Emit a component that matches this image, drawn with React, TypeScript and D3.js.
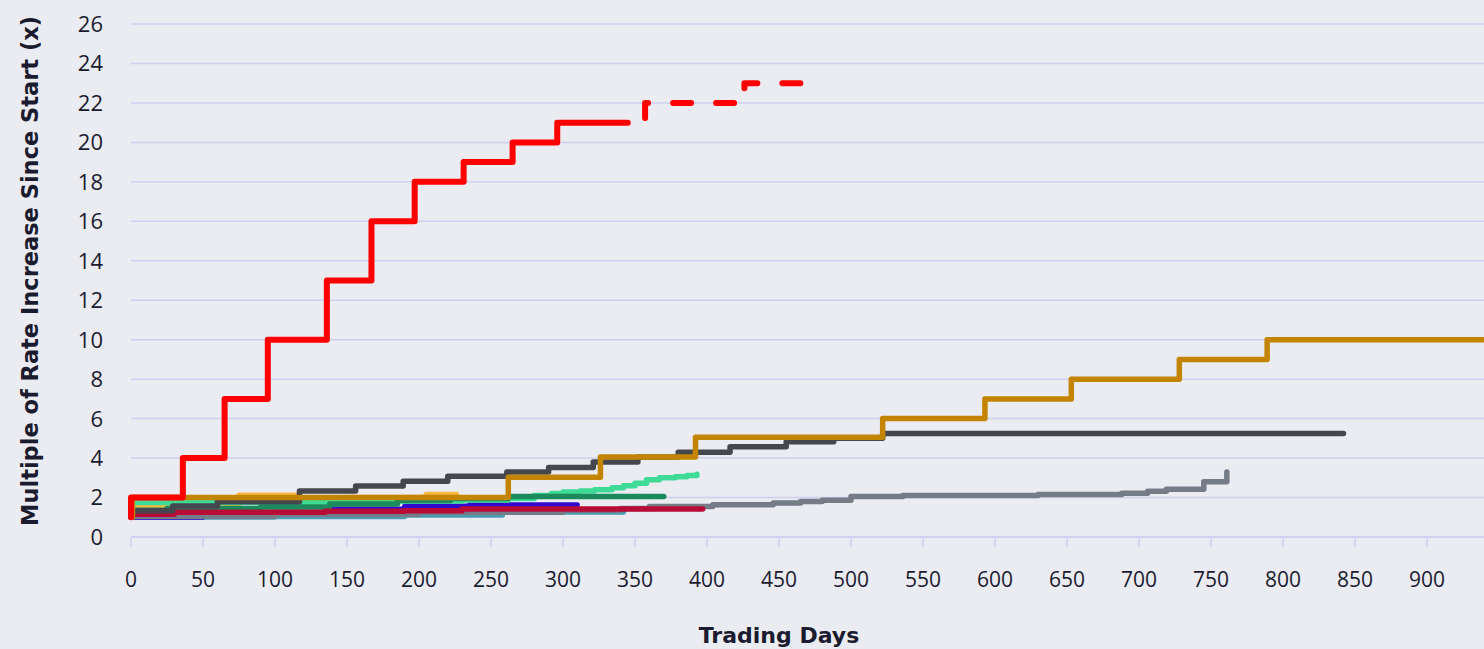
import React, { useEffect, useRef } from 'react';
import * as d3 from 'd3';

type Pt = [number, number];

// [trading day, multiple since start] - drawn as step-after lines
const redActual: Pt[] = [[0, 1], [0, 2], [36, 4], [65, 7], [95, 10], [136, 13], [167, 16], [197, 18], [231, 19], [265, 20], [296, 21], [345, 21]];
const redProjected: Pt[] = [[345, 21], [357, 22], [426, 23], [467, 23]];
const goldSeries: Pt[] = [[0, 1], [1, 2], [262, 3.03], [326, 4.05], [392, 5.05], [522, 6], [593, 7], [653, 8], [728, 9], [789, 10], [940, 10]];
const darkGraySeries: Pt[] = [[0, 1], [1, 1.33], [29, 1.57], [60, 1.79], [117, 2.33], [156, 2.58], [189, 2.82], [220, 3.08], [261, 3.3], [290, 3.52], [321, 3.8], [352, 4.05], [380, 4.3], [416, 4.57], [455, 4.83], [488, 5.0], [522, 5.25], [842, 5.25]];
const graySeries: Pt[] = [[0, 1], [1, 1.05], [100, 1.15], [200, 1.25], [300, 1.35], [340, 1.45], [360, 1.55], [404, 1.63], [446, 1.72], [465, 1.8], [480, 1.86], [500, 2.05], [536, 2.1], [630, 2.15], [688, 2.22], [706, 2.32], [719, 2.42], [745, 2.8], [761, 3.3]];
const mintSeries: Pt[] = [[0, 1], [1, 1.75], [120, 1.78], [180, 1.82], [230, 1.88], [262, 1.95], [280, 2.1], [292, 2.2], [300, 2.28], [312, 2.33], [322, 2.4], [334, 2.5], [342, 2.6], [350, 2.72], [358, 2.9], [367, 3.0], [378, 3.05], [386, 3.12], [393, 3.18]];
const greenSeries: Pt[] = [[0, 1], [1, 1.35], [25, 1.45], [90, 1.52], [138, 1.67], [185, 1.85], [222, 1.95], [262, 2.05], [370, 2.05]];
const orangeSeries: Pt[] = [[0, 1], [1, 1.5], [55, 1.6], [75, 2.12], [112, 2.12], [115, 1.8], [142, 1.8], [150, 2.0], [205, 2.15], [226, 2.15]];
const blueSeries: Pt[] = [[0, 1], [50, 1.1], [100, 1.25], [140, 1.42], [190, 1.57], [235, 1.63], [310, 1.63]];
const crimsonSeries: Pt[] = [[0, 1], [1, 1.15], [30, 1.25], [135, 1.3], [190, 1.33], [230, 1.42], [397, 1.42]];
const tealSeries: Pt[] = [[0, 1], [100, 1.03], [190, 1.1], [258, 1.26], [342, 1.28]];

const xTicks = d3.range(0, 901, 50);
const yTicks = d3.range(0, 27, 2);

// bottom to top draw order
const layers = [
  { data: tealSeries, color: '#4b9bb3', width: 5 },
  { data: blueSeries, color: '#3208cc', width: 5 },
  { data: graySeries, color: '#767b88', width: 5.5 },
  { data: orangeSeries, color: '#f7b941', width: 5.5 },
  { data: mintSeries, color: '#3ddb96', width: 5.5 },
  { data: greenSeries, color: '#1b8a5c', width: 5.5 },
  { data: crimsonSeries, color: '#b80b36', width: 5.5 },
  { data: darkGraySeries, color: '#45474f', width: 5.5 },
  { data: goldSeries, color: '#c38500', width: 5.5 },
  { data: redActual, color: '#ff0000', width: 6 },
];

const App: React.FC = () => {
  const svgRef = useRef<SVGSVGElement>(null);

  useEffect(() => {
    if (!svgRef.current) return;
    const svg = d3.select(svgRef.current);
    svg.selectAll('*').remove();

    const width = 1484;
    const height = 649;
    const left = 131;
    const top = 24;
    const bottom = 537;

    const x = d3.scaleLinear().domain([0, 940]).range([left, left + 940 * 1.44]);
    const y = d3.scaleLinear().domain([0, 26]).range([bottom, top]);

    svg.append('rect').attr('width', width).attr('height', height).attr('fill', '#ebebf2');

    const font = "'Open Sans', sans-serif";
    const titleFont = "'DejaVu Sans', sans-serif";
    const textColor = '#1b1b2f';
    const gridColor = '#cfcff0';

    // horizontal gridlines
    svg.append('g')
      .selectAll('line')
      .data(yTicks.filter(d => d > 0))
      .enter()
      .append('line')
      .attr('x1', left)
      .attr('x2', width)
      .attr('y1', d => y(d))
      .attr('y2', d => y(d))
      .attr('stroke', gridColor)
      .attr('stroke-width', 1.5);

    // x axis
    const xAxis = svg.append('g').attr('transform', `translate(0,${bottom})`);
    xAxis.append('line')
      .attr('x1', left).attr('x2', width)
      .attr('stroke', gridColor).attr('stroke-width', 2);
    xAxis.selectAll('.tick')
      .data(xTicks)
      .enter()
      .append('line')
      .attr('x1', d => x(d)).attr('x2', d => x(d))
      .attr('y1', 0).attr('y2', 10)
      .attr('stroke', gridColor).attr('stroke-width', 1.5);
    xAxis.selectAll('.lbl')
      .data(xTicks)
      .enter()
      .append('text')
      .attr('x', d => x(d))
      .attr('y', 50)
      .attr('text-anchor', 'middle')
      .attr('font-family', font)
      .attr('font-size', 21)
      .attr('fill', textColor)
      .text(d => d);

    // y labels
    svg.append('g')
      .selectAll('text')
      .data(yTicks)
      .enter()
      .append('text')
      .attr('x', 103)
      .attr('y', d => y(d))
      .attr('dy', '0.36em')
      .attr('text-anchor', 'end')
      .attr('font-family', font)
      .attr('font-size', 22)
      .attr('fill', textColor)
      .text(d => d);

    // axis titles
    svg.append('text')
      .attr('x', 779)
      .attr('y', 643)
      .attr('text-anchor', 'middle')
      .attr('font-family', titleFont)
      .attr('font-weight', 700)
      .attr('font-size', 22)
      .attr('fill', textColor)
      .text('Trading Days');

    svg.append('text')
      .attr('transform', `translate(38,271) rotate(-90)`)
      .attr('text-anchor', 'middle')
      .attr('font-family', titleFont)
      .attr('font-weight', 700)
      .attr('font-size', 22.5)
      .attr('fill', textColor)
      .text('Multiple of Rate Increase Since Start (x)');

    const line = d3.line<Pt>()
      .x(d => x(d[0]))
      .y(d => y(d[1]))
      .curve(d3.curveStepAfter);

    const g = svg.append('g');
    layers.forEach(l => {
      g.append('path')
        .attr('d', line(l.data) || '')
        .attr('fill', 'none')
        .attr('stroke', l.color)
        .attr('stroke-width', l.width)
        .attr('stroke-linejoin', 'round')
        .attr('stroke-linecap', 'round');
    });

    // projected part of red series
    g.append('path')
      .attr('d', line(redProjected) || '')
      .attr('fill', 'none')
      .attr('stroke', '#ff0000')
      .attr('stroke-width', 6)
      .attr('stroke-linejoin', 'round')
      .attr('stroke-linecap', 'round')
      .attr('stroke-dasharray', '18 25')
      .attr('stroke-dashoffset', 21);
  }, []);

  return (
    <div style={{ position: 'fixed', left: 0, top: 0 }}>
      <svg ref={svgRef} width={1484} height={649} style={{ display: 'block' }} />
    </div>
  );
};

export default App;
